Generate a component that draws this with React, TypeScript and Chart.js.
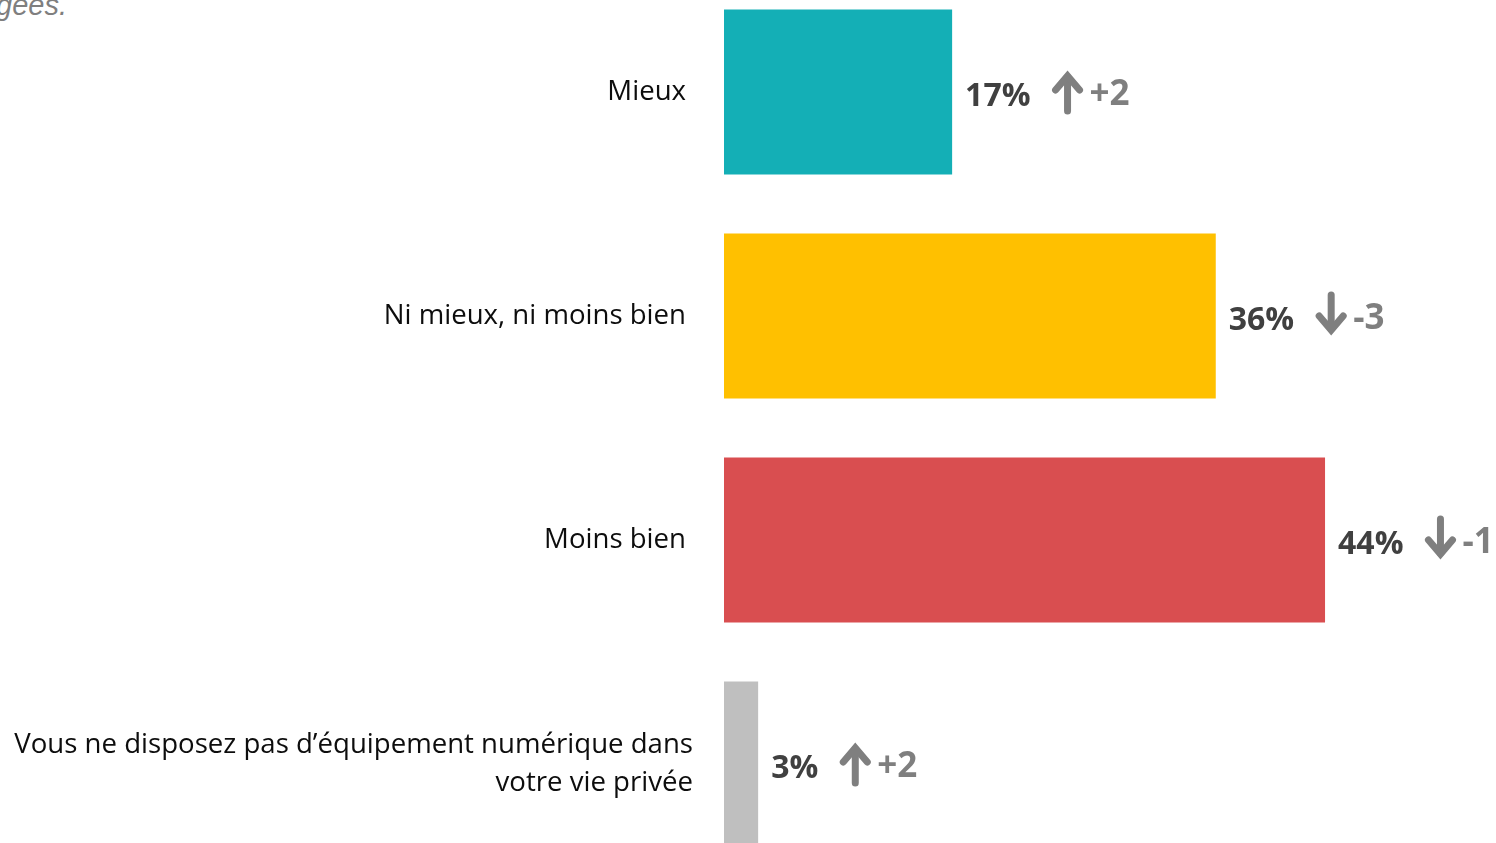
import React, { useEffect, useRef } from "react";
import { Chart, registerables } from "chart.js";

Chart.register(...registerables);

const categories: string[][] = [
  ["Mieux"],
  ["Ni mieux, ni moins bien"],
  ["Moins bien"],
  ["Vous ne disposez pas d\u2019équipement numérique dans", "votre vie privée"],
];
const barValues = [16.7, 36.0, 44.0, 2.5];
const percentLabels = ["17%", "36%", "44%", "3%"];
const deltas = [2, -3, -1, 2];
const barColors = ["#14AFB6", "#FFC000", "#D94E50", "#BFBFBF"];
const subtitleTail = "gées.";

const FONT = "'Open Sans', sans-serif";

function drawArrow(ctx: CanvasRenderingContext2D, cx: number, cy: number, up: boolean) {
  const half = 20;
  const tip = up ? cy - half : cy + half;
  const tail = up ? cy + half : cy - half;
  const dir = up ? 1 : -1;
  ctx.strokeStyle = "#7F7F7F";
  ctx.lineWidth = 7;
  ctx.lineCap = "round";
  ctx.beginPath();
  ctx.moveTo(cx, tip + dir * 6);
  ctx.lineTo(cx, tail);
  ctx.stroke();
  ctx.lineJoin = "miter";
  ctx.lineCap = "round";
  ctx.beginPath();
  ctx.moveTo(cx - 12, tip + dir * 19);
  ctx.lineTo(cx, tip + dir * 5);
  ctx.lineTo(cx + 12, tip + dir * 19);
  ctx.stroke();
}

const labelPlugin = {
  id: "valueLabels",
  afterDatasetsDraw(chart: any) {
    const { ctx } = chart;
    const meta = chart.getDatasetMeta(0);
    const yScale = chart.scales.y;
    ctx.save();
    // category labels, positioned with the category scale
    ctx.font = `27.6px ${FONT}`;
    ctx.fillStyle = "#0D0D0D";
    ctx.textAlign = "right";
    ctx.textBaseline = "alphabetic";
    categories.forEach((lines, i) => {
      const cy = yScale.getPixelForValue(i);
      const lh = 38;
      const start = cy + 8 - ((lines.length - 1) * lh) / 2;
      const x = lines.length > 1 ? 693 : 686;
      lines.forEach((ln, k) => ctx.fillText(ln, x, start + k * lh));
    });
    // value labels with evolution arrows
    ctx.textAlign = "left";
    meta.data.forEach((bar: any, i: number) => {
      const x0 = bar.x + 13;
      const y = bar.y;
      ctx.font = `bold 32px ${FONT}`;
      ctx.fillStyle = "#404040";
      const txt = percentLabels[i];
      ctx.fillText(txt, x0, y + 14);
      const w = ctx.measureText(txt).width;
      const ax = x0 + w + 37;
      const up = deltas[i] > 0;
      drawArrow(ctx, ax, y - 1, up);
      ctx.font = `bold 35px ${FONT}`;
      ctx.fillStyle = "#7F7F7F";
      ctx.fillText((up ? "+" : "-") + Math.abs(deltas[i]), ax + 22, y + 13);
    });
    ctx.restore();
  },
};

function BarChart() {
  const ref = useRef<HTMLCanvasElement | null>(null);
  useEffect(() => {
    if (!ref.current) return;
    const chart = new Chart(ref.current, {
      type: "bar",
      data: {
        labels: categories.map((c) => c.join(" ")),
        datasets: [
          {
            data: barValues,
            backgroundColor: barColors,
            borderWidth: 0,
            barPercentage: 0.737,
            categoryPercentage: 1,
          },
        ],
      },
      options: {
        indexAxis: "y",
        animation: false,
        responsive: false,
        maintainAspectRatio: false,
        layout: { padding: { left: 724, right: 89, top: 0, bottom: 0 } },
        plugins: { legend: { display: false }, tooltip: { enabled: false } },
        scales: {
          x: { display: false, min: 0, max: 50 },
          y: { display: false },
        },
      },
      plugins: [labelPlugin],
    });
    return () => chart.destroy();
  }, []);
  return <canvas ref={ref} width={1496} height={896} style={{ display: "block" }} />;
}

export default function App() {
  useEffect(() => {
    document.body.style.margin = "0";
    document.body.style.overflow = "hidden";
  }, []);
  return (
    <div
      style={{
        position: "fixed",
        left: 0,
        top: 0,
        width: 1496,
        height: 843,
        overflow: "hidden",
        background: "#FFFFFF",
      }}
    >
      <div
        style={{
          position: "absolute",
          left: -4,
          top: -9,
          fontFamily: "'Liberation Sans', Arial, sans-serif",
          fontStyle: "italic",
          fontSize: 29,
          color: "#7F7F7F",
          lineHeight: "28px",
          whiteSpace: "nowrap",
        }}
      >
        {subtitleTail}
      </div>
      <div style={{ position: "absolute", left: 0, top: -20, width: 1496, height: 896 }}>
        <BarChart />
      </div>
    </div>
  );
}
